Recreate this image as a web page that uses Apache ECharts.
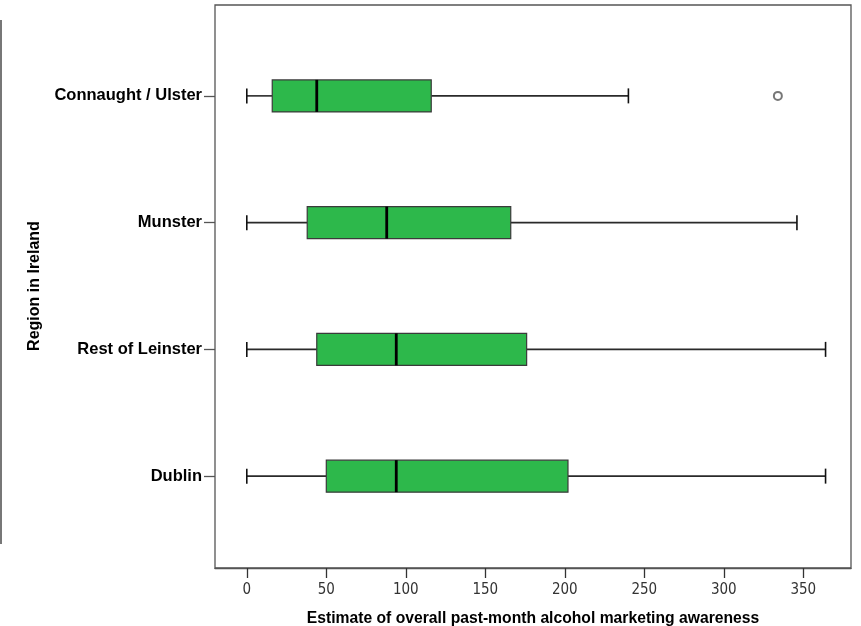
<!DOCTYPE html>
<html>
<head>
<meta charset="utf-8">
<script src="https://cdn.jsdelivr.net/npm/echarts@6/dist/echarts.min.js"></script>
<style>html,body{margin:0;padding:0;background:#fff}#c{width:861px;height:626px}</style>
</head>
<body>
<div id="c"></div>
<script>
// Data (bottom to top)
var categories = ['Dublin', 'Rest of Leinster', 'Munster', 'Connaught / Ulster'];
var whiskerLow = [0, 0, 0, 0];
var q1 = [50, 44, 38, 16];
var median = [94, 94, 88, 44];
var q3 = [202, 176, 166, 116];
var whiskerHigh = [364, 364, 346, 240];
var outliers = [[334, 'Connaught / Ulster']];
var xTicks = [0, 50, 100, 150, 200, 250, 300, 350];

var boxData = categories.map(function (c, i) {
  return [whiskerLow[i], q1[i], median[i], q3[i], whiskerHigh[i], i];
});

var chart = echarts.init(document.getElementById('c'), null, {renderer: 'canvas'});

function renderBox(params, api) {
  var ci = api.value(5);
  var pMin = api.coord([api.value(0), ci]);
  var pQ1 = api.coord([api.value(1), ci]);
  var pMed = api.coord([api.value(2), ci]);
  var pQ3 = api.coord([api.value(3), ci]);
  var pMax = api.coord([api.value(4), ci]);
  var y = pMed[1];
  var bh = 32, cap = 15;
  var lineStyle = {stroke: '#2a2a2a', lineWidth: 1.6};
  return {
    type: 'group',
    children: [
      {type: 'line', shape: {x1: pMin[0], y1: y, x2: pQ1[0], y2: y}, style: lineStyle},
      {type: 'line', shape: {x1: pQ3[0], y1: y, x2: pMax[0], y2: y}, style: lineStyle},
      {type: 'line', shape: {x1: pMin[0], y1: y - cap / 2, x2: pMin[0], y2: y + cap / 2}, style: {stroke: '#111', lineWidth: 1.6}},
      {type: 'line', shape: {x1: pMax[0], y1: y - cap / 2, x2: pMax[0], y2: y + cap / 2}, style: {stroke: '#111', lineWidth: 1.6}},
      {type: 'rect', shape: {x: pQ1[0], y: y - bh / 2, width: pQ3[0] - pQ1[0], height: bh},
        style: {fill: '#2db84b', stroke: '#3a3a3a', lineWidth: 1.2}},
      {type: 'line', shape: {x1: pMed[0], y1: y - bh / 2, x2: pMed[0], y2: y + bh / 2}, style: {stroke: '#000', lineWidth: 2.8}}
    ]
  };
}

var option = {
  backgroundColor: '#fff',
  animation: false,
  textStyle: {fontFamily: 'Liberation Sans, Arial, sans-serif'},
  graphic: [
    {type: 'line', shape: {x1: 1, y1: 20, x2: 1, y2: 544}, style: {stroke: '#777', lineWidth: 2}}
  ],
  grid: [
    {left: 215, right: 10, top: 5, bottom: 58, outerBoundsMode: 'none', containLabel: false, show: true, borderColor: '#555', borderWidth: 1.3, backgroundColor: 'transparent'},
    {left: 215, right: 10, top: 32.5, bottom: 86.5, outerBoundsMode: 'none', containLabel: false}
  ],
  xAxis: [
    {
      gridIndex: 0, type: 'value', min: -20, max: 380,
      axisLine: {show: true, lineStyle: {color: '#555', width: 1.3}},
      axisTick: {show: true, length: 10, customValues: xTicks, lineStyle: {color: '#333', width: 1.3}},
      axisLabel: {customValues: xTicks, margin: 15, fontSize: 15, color: '#333', fontFamily: 'Liberation Sans Narrow, DejaVu Sans Condensed, sans-serif'},
      splitLine: {show: false},
      name: 'Estimate of overall past-month alcohol marketing awareness',
      nameLocation: 'middle', nameGap: 43,
      nameTextStyle: {fontSize: 15.7, fontWeight: 'bold', color: '#000'}
    },
    {gridIndex: 1, type: 'value', min: -20, max: 380, show: false}
  ],
  yAxis: [
    {gridIndex: 0, type: 'value', min: 0, max: 1, show: false},
    {
      gridIndex: 1, type: 'category', data: categories,
      axisLine: {show: false, onZero: false},
      axisTick: {show: true, alignWithLabel: true, length: 11, lineStyle: {color: '#555', width: 1.3}},
      axisLabel: {margin: 13, fontSize: 16.5, fontWeight: 'bold', color: '#000'},
      splitLine: {show: false},
      name: 'Region in Ireland', nameLocation: 'middle', nameRotate: 90, nameGap: 172,
      nameTextStyle: {fontSize: 16, fontWeight: 'bold', color: '#000'}
    }
  ],
  series: [
    {
      type: 'custom', xAxisIndex: 1, yAxisIndex: 1,
      renderItem: renderBox,
      encode: {x: [0, 1, 2, 3, 4], y: 5},
      data: boxData
    },
    {
      type: 'scatter', xAxisIndex: 1, yAxisIndex: 1,
      symbol: 'emptyCircle', symbolSize: 8,
      itemStyle: {color: '#555', borderColor: '#555', borderWidth: 1.2},
      data: outliers
    }
  ]
};
chart.setOption(option);
</script>
</body>
</html>
